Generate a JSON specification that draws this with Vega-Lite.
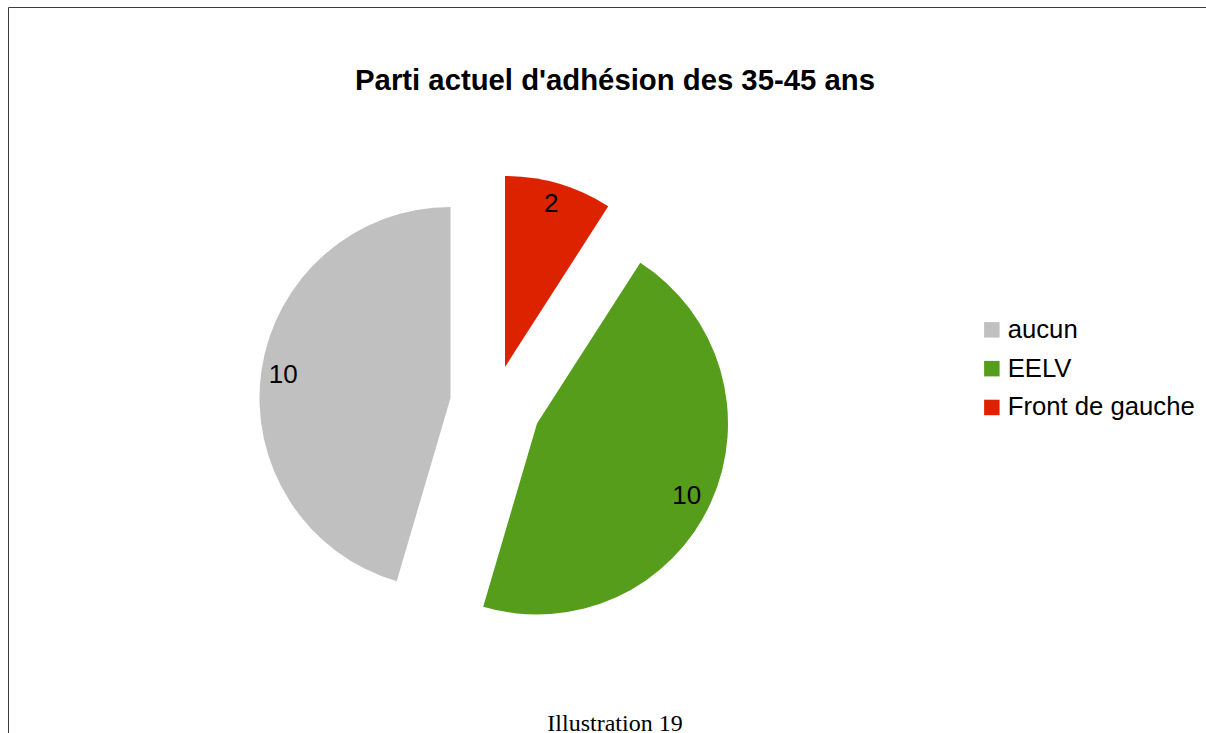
{
  "$schema": "https://vega.github.io/schema/vega-lite/v6.json",
  "width": 1210,
  "height": 740,
  "autosize": {"type": "none"},
  "padding": {"left": 8, "top": 7, "right": 0, "bottom": 0},
  "background": "white",
  "view": {"stroke": "#3c3c3c", "strokeWidth": 1, "fill": "white"},
  "config": {
    "font": "Liberation Sans",
    "legend": {
      "orient": "none",
      "legendX": 971,
      "legendY": 310,
      "symbolType": "square",
      "symbolSize": 240,
      "symbolStrokeWidth": 0,
      "labelFontSize": 25.7,
      "labelFont": "Liberation Sans",
      "labelColor": "black",
      "labelOffset": 3,
      "labelLimit": 400,
      "rowPadding": 11.8,
      "padding": 0
    }
  },
  "title": {
    "text": "Parti actuel d'adhésion des 35-45 ans",
    "subtitle": "Illustration 19",
    "orient": "top",
    "anchor": "middle",
    "frame": "group",
    "offset": -729,
    "dx": 2,
    "font": "Liberation Sans",
    "fontSize": 29.3,
    "fontWeight": "bold",
    "color": "black",
    "subtitleFont": "Liberation Serif",
    "subtitleFontSize": 24,
    "subtitleColor": "black",
    "subtitlePadding": 616
  },
  "data": {
    "values": [
      {"party": "aucun", "value": 10},
      {"party": "EELV", "value": 10},
      {"party": "Front de gauche", "value": 2}
    ]
  },
  "transform": [
    {
      "stack": "value",
      "groupby": [],
      "sort": [{"field": "value", "order": "ascending"}, {"field": "party", "order": "ascending"}],
      "as": ["t0", "t1"]
    },
    {"calculate": "(datum.t0 + datum.t1) / 2", "as": "tmid"}
  ],
  "layer": [
    {
      "transform": [{"filter": "datum.party === 'aucun'"}],
      "mark": {"type": "arc", "radius": 191, "xOffset": -162.5, "yOffset": 21},
      "encoding": {
        "theta": {"field": "t0", "type": "quantitative", "scale": {"domain": [0, 22]}, "stack": null},
        "theta2": {"field": "t1"},
        "color": {"field": "party", "type": "nominal", "scale": {"domain": ["aucun", "EELV", "Front de gauche"], "range": ["#c0c0c0", "#579d1c", "#dd2200"]}, "legend": {"title": null}}
      }
    },
    {
      "transform": [{"filter": "datum.party === 'EELV'"}],
      "mark": {"type": "arc", "radius": 191, "xOffset": -76, "yOffset": 46.5},
      "encoding": {
        "theta": {"field": "t0", "type": "quantitative", "scale": {"domain": [0, 22]}, "stack": null},
        "theta2": {"field": "t1"},
        "color": {"field": "party", "type": "nominal", "scale": {"domain": ["aucun", "EELV", "Front de gauche"], "range": ["#c0c0c0", "#579d1c", "#dd2200"]}, "legend": {"title": null}}
      }
    },
    {
      "transform": [{"filter": "datum.party === 'Front de gauche'"}],
      "mark": {"type": "arc", "radius": 191, "xOffset": -108, "yOffset": -10},
      "encoding": {
        "theta": {"field": "t0", "type": "quantitative", "scale": {"domain": [0, 22]}, "stack": null},
        "theta2": {"field": "t1"},
        "color": {"field": "party", "type": "nominal", "scale": {"domain": ["aucun", "EELV", "Front de gauche"], "range": ["#c0c0c0", "#579d1c", "#dd2200"]}, "legend": {"title": null}}
      }
    },
    {
      "transform": [{"filter": "datum.party === 'aucun'"}],
      "mark": {"type": "text", "radius": 168, "xOffset": -163.5, "yOffset": 22, "fontSize": 26, "font": "Liberation Sans", "color": "black", "align": "center", "baseline": "middle"},
      "encoding": {
        "theta": {"field": "tmid", "type": "quantitative", "scale": {"domain": [0, 22]}, "stack": null},
        "text": {"field": "value", "type": "quantitative"}
      }
    },
    {
      "transform": [{"filter": "datum.party === 'EELV'"}],
      "mark": {"type": "text", "radius": 168, "xOffset": -79, "yOffset": 49.5, "fontSize": 26, "font": "Liberation Sans", "color": "black", "align": "center", "baseline": "middle"},
      "encoding": {
        "theta": {"field": "tmid", "type": "quantitative", "scale": {"domain": [0, 22]}, "stack": null},
        "text": {"field": "value", "type": "quantitative"}
      }
    },
    {
      "transform": [{"filter": "datum.party === 'Front de gauche'"}],
      "mark": {"type": "text", "radius": 168, "xOffset": -109, "yOffset": -11.5, "fontSize": 26, "font": "Liberation Sans", "color": "black", "align": "center", "baseline": "middle"},
      "encoding": {
        "theta": {"field": "tmid", "type": "quantitative", "scale": {"domain": [0, 22]}, "stack": null},
        "text": {"field": "value", "type": "quantitative"}
      }
    }
  ]
}
